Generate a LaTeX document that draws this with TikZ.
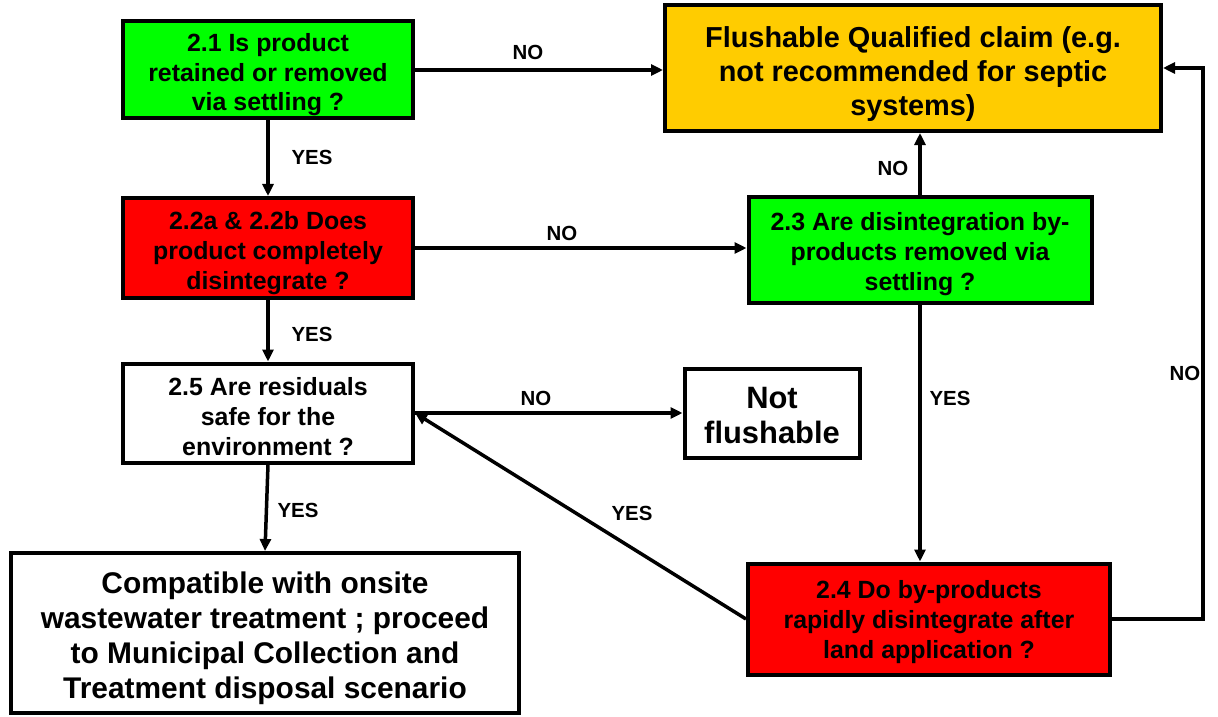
\documentclass[tikz,border=0pt]{standalone}
\usepackage{fontspec}
\setmainfont{Liberation Sans}
\usetikzlibrary{arrows.meta}
\definecolor{boxgreen}{HTML}{00FF00}
\definecolor{boxred}{HTML}{FF0000}
\definecolor{boxorange}{HTML}{FFCC00}
\newcommand\tgap[1]{\rule{0pt}{#1em}}
\tikzset{
  box/.style={draw=black, line width=4bp, inner sep=0pt, align=center, font=\bfseries\fontsize{25}{30}\selectfont},
  arr/.style={line width=3.5bp, -{Triangle[length=12bp,width=11bp]}},
  lab/.style={font=\bfseries\fontsize{20.5}{22}\selectfont, inner sep=0pt}
}
\begin{document}
\begin{tikzpicture}[x=1bp,y=-1bp]
\useasboundingbox (0,0) rectangle (1218,717);
\node[box, fill=boxgreen, minimum width=290bp, minimum height=97bp] (n21) at (268,70) {\tgap{1.1}2.1 Is product\\retained or removed\\via settling ?};
\node[box, fill=boxorange, minimum width=496bp, minimum height=126bp, font=\bfseries\fontsize{29}{34}\selectfont] (flush) at (913,68) {\tgap{1.14}Flushable Qualified claim (e.g.\\not recommended for septic\\systems)};
\node[box, fill=boxred, minimum width=290bp, minimum height=100bp] (n22) at (268,248) {\tgap{1.13}2.2a \& 2.2b Does\\product completely\\disintegrate ?};
\node[box, fill=boxgreen, minimum width=343bp, minimum height=106bp] (n23) at (920,250) {\tgap{1.05}2.3 Are disintegration by-\\products removed via\\settling ?};
\node[box, fill=white, minimum width=290bp, minimum height=99bp] (n25) at (268,413) {\tgap{1.0}2.5 Are residuals\\safe for the\\environment ?};
\node[box, fill=white, minimum width=175bp, minimum height=89bp, font=\bfseries\fontsize{31}{35}\selectfont] (nf) at (772,413) {\tgap{0.83}Not\\flushable};
\node[box, fill=white, minimum width=507bp, minimum height=160bp, font=\bfseries\fontsize{30}{35}\selectfont] (comp) at (265,633) {\tgap{1.07}Compatible with onsite\\wastewater treatment ; proceed\\to Municipal Collection and\\Treatment disposal scenario};
\node[box, fill=boxred, minimum width=362bp, minimum height=111bp] (n24) at (929,619) {\tgap{0.97}2.4 Do by-products\\rapidly disintegrate after\\land application ?};
\coordinate (cR) at (1203,0);
% connectors
\draw[arr] (n21.east) -- (n21.east -| flush.west);
\draw[arr] (n21.south) -- (n22.north);
\draw[arr] (n22.east) -- (n22.east -| n23.west);
\draw[arr] (n22.south) -- (n25.north);
\draw[arr] (n23.north) -- (n23.north |- flush.south);
\draw[arr] (n23.south) -- (n23.south |- n24.north);
\draw[arr] (n25.east) -- (n25.east -| nf.west);
\draw[arr] (n24.west) -- (n25.east);
\draw[arr] (n24.east) -- (n24.east -| cR) |- (flush.east);
\draw[arr] (n25.south) -- (comp.north);
% labels
\node[lab] (l1) at (528,52) {NO};
\node[lab] (l2) at (312,157) {YES};
\node[lab] (l3) at (562,233) {NO};
\node[lab] (l4) at (312,334) {YES};
\node[lab] (l5) at (893,168) {NO};
\node[lab] (l6) at (950,398) {YES};
\node[lab] (l7) at (536,398) {NO};
\node[lab] (l8) at (632,513) {YES};
\node[lab] (l9) at (1185,373) {NO};
\node[lab] (l10) at (298,510) {YES};
\end{tikzpicture}
\end{document}
